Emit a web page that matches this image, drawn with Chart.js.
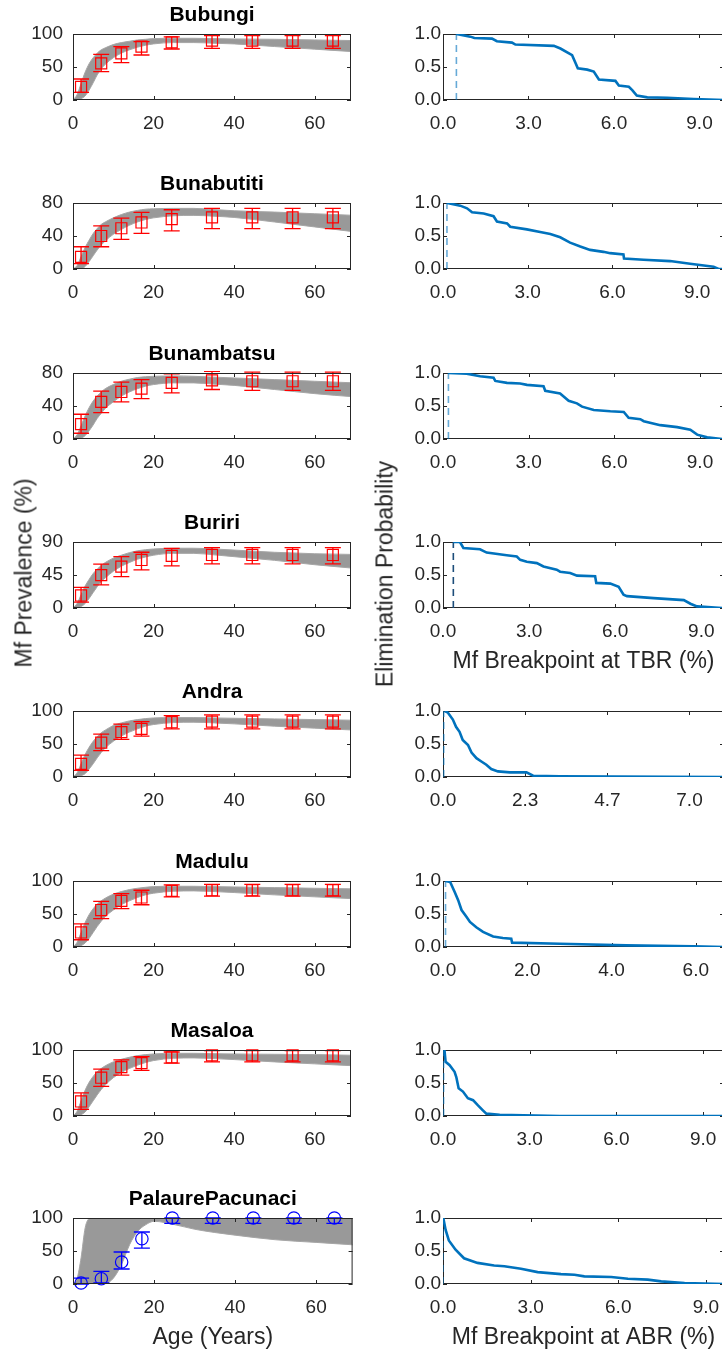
<!DOCTYPE html>
<html>
<head>
<meta charset="utf-8">
<script src="https://cdn.jsdelivr.net/npm/chart.js@4.4.1/dist/chart.umd.min.js"></script>
<style>
  html, body { margin:0; padding:0; background:#fff; }
  body { width:722px; height:1351px; position:relative; overflow:hidden; font-family:'Liberation Sans', Arial, sans-serif; }
  canvas { position:absolute; }
  .ylab { position:absolute; font-size:23px; color:#262626; white-space:nowrap; transform:translate(-50%,-50%) rotate(-90deg); z-index:5; }
</style>
</head>
<body>
<div class="ylab" style="left:24px; top:573px">Mf Prevalence (%)</div>
<div class="ylab" style="left:385px; top:574px">Elimination Probability</div>
<script>
// ---- data ----
const villages = ['Bubungi','Bunabutiti','Bunambatsu','Buriri','Andra','Madulu','Masaloa','PalaurePacunaci'];
const obsAge  = [2, 7, 12, 17, 24.5, 34.5, 44.5, 54.5, 64.5];
const bandAge = [0, 1, 2, 3, 4, 5, 6, 7, 8, 10, 12, 14, 16, 18, 20, 25, 30, 35, 40, 50, 60, 70];
const ageTicks = [0, 20, 40, 60];
const probTicks = [0, 0.5, 1];

const yMaxes = [100, 80, 80, 90, 100, 100, 100, 100];
const yTickSteps = [50, 40, 40, 45, 50, 50, 50, 50];

// observed prevalence (mean, lower, upper)
const bubungiObs = [20, 55.5, 70.7, 80.8, 87.4, 90, 90, 90, 90];
const bubungiLo  = [11.7, 43, 56.6, 68.2, 77.3, 78.3, 78.3, 78.3, 78.3];
const bubungiHi  = [31.8, 69.2, 80.8, 88.4, 95.5, 97.5, 97.5, 97.5, 97.5];
const bunabutitiObs = [14.7, 40, 49.4, 56.4, 60.4, 62.5, 62.5, 62.5, 62.5];
const bunabutitiLo  = [6.5, 27, 35.9, 43.3, 46.1, 49, 49, 49, 49];
const bunabutitiHi  = [27, 52.2, 61.6, 68.6, 71.8, 73.5, 73.5, 73.5, 73.5];
const bunambatsuObs = [18, 45, 57, 61, 68, 71, 70, 70, 70];
const bunambatsuLo  = [7, 32, 45, 49, 56, 60, 59, 59, 59];
const bunambatsuHi  = [30, 58, 69, 72, 79, 82, 81, 81, 81];
const buririObs = [17.1, 44.8, 56.4, 65.5, 71, 72.3, 72.3, 72.3, 72.3];
const buririLo  = [8.1, 31.6, 42.9, 52, 57.4, 60.1, 60.1, 60.1, 60.1];
const buririHi  = [28, 59.7, 70, 76, 81.4, 82.2, 82.2, 82.2, 82.2];
const andraObs = [20, 52, 68, 73, 83, 84, 84, 84, 84];
const andraLo  = [10, 40, 57, 62, 73, 73, 73, 73, 73];
const andraHi  = [33, 65, 80, 84, 93, 94, 94, 94, 94];
const maduluObs = [22, 56, 70, 75, 85, 86, 86, 86, 86];
const maduluLo  = [11, 43, 58, 64, 76, 77, 77, 77, 77];
const maduluHi  = [35, 69, 81, 86, 94, 95, 95, 95, 95];
const masaloaObs = [22, 58, 74, 80, 89, 92, 92, 92, 92];
const masaloaLo  = [10, 45, 62, 69, 80, 82, 82, 82, 82];
const masaloaHi  = [35, 71, 85, 90, 97, 99, 99, 99, 99];
const palaureObs = [1.5, 8, 33.3, 68.6, 100, 100, 100, 100, 100];
const palaureLo  = [0, 1.5, 22.7, 54.5, 92, 92, 92, 92, 92];
const palaureHi  = [9, 19, 48.5, 78.8, 100, 100, 100, 100, 100];

// envelope of the fitted model curves (upper / lower edge of grey band)
const bubungiUp  = [0, 8, 25, 42, 55, 64, 71, 76, 79, 84, 87, 89, 91, 92, 93, 93.5, 93.5, 93, 92.5, 92, 91, 90];
const bubungiLow = [0, 0, 2, 6, 15, 26, 38, 47, 54, 64, 71, 76, 80, 83, 85, 87, 87, 86, 85, 81, 77, 73];
const bunabutitiUp  = [0, 4, 15, 26, 35, 43, 49, 54, 57, 62, 66, 69, 71, 72.5, 73, 73.5, 73.5, 72, 70.6, 69, 67, 65];
const bunabutitiLow = [0, 0, 0, 3, 9, 16, 23, 29, 34, 42, 48, 53, 57, 60, 62, 64.5, 65, 64, 62.5, 57, 51, 45];
const bunambatsuUp  = [0, 5, 16, 28, 38, 46, 52, 57, 61, 66, 70, 72.5, 74.5, 75.5, 76, 76.5, 76, 75, 74, 72, 70, 68];
const bunambatsuLow = [0, 0, 1, 4, 10, 17, 25, 31, 37, 45, 52, 57, 61, 64, 66, 68, 68, 66.5, 65, 60, 55, 51];
const buririUp  = [0, 6, 18, 30, 39, 47, 53, 58, 62, 68, 72, 75.5, 78, 79.5, 80.5, 81.5, 81.5, 80.5, 79, 76, 74, 73];
const buririLow = [0, 0, 2, 6, 13, 21, 29, 36, 41, 50, 57, 62, 66.5, 69.5, 72, 74.5, 74.5, 72.5, 70, 65, 59, 54];
const andraUp  = [0, 6, 20, 34, 45, 54, 61, 67, 71, 78, 82, 85, 87, 88.5, 89.5, 90, 90, 89.5, 89, 88, 87, 86];
const andraLow = [0, 0, 2, 5, 12, 20, 29, 37, 44, 54, 62, 68, 73, 77, 79.5, 82.5, 83, 82, 80.5, 77, 74, 71];
const maduluUp  = [0, 7, 22, 37, 49, 58, 65, 70, 74, 80, 84, 87, 89, 90.5, 91.5, 92, 92, 91.5, 91, 90, 89, 88];
const maduluLow = [0, 0, 2, 6, 13, 22, 31, 39, 46, 56, 64, 70, 75, 79, 81.5, 84.5, 85, 84, 82.5, 79, 76, 73];
const masaloaUp  = [0, 7, 23, 39, 51, 60, 67, 72, 76, 82, 86, 89, 91.5, 93, 94, 95, 95, 94.5, 94, 93.5, 93, 92];
const masaloaLow = [0, 0, 2, 6, 14, 23, 32, 40, 47, 58, 66, 72, 77, 81, 84, 87.5, 88, 87, 85.5, 82, 79, 76];
const palaureUp  = [0, 8, 40, 85, 99, 100, 100, 100, 100, 100, 100, 100, 100, 100, 100, 100, 100, 100, 100, 100, 100, 100];
const palaureLow = [0, 0, 0, 0, 0, 0, 0, 0, 0.5, 9, 30, 60, 80, 90, 95, 90, 83, 78, 74, 67, 63, 59];

// elimination probability vs breakpoint
const bubungiBpX = [0.47, 0.96, 1.1, 1.72, 1.89, 2.42, 2.54, 3.89, 4.12, 4.53, 4.65, 4.73, 5.06, 5.29, 5.47, 6.05, 6.17, 6.52, 6.64, 6.8, 7.17, 7.87, 8.8, 9.86];
const bubungiBpY = [1.0, 0.96, 0.94, 0.93, 0.89, 0.87, 0.84, 0.82, 0.78, 0.68, 0.56, 0.48, 0.46, 0.43, 0.31, 0.29, 0.22, 0.2, 0.15, 0.066, 0.04, 0.035, 0.015, 0.0];
const bunabutitiBpX = [0.15, 0.61, 0.85, 1.03, 1.44, 1.79, 1.91, 2.27, 2.38, 2.97, 3.44, 3.8, 4.15, 4.5, 4.86, 5.21, 5.68, 5.92, 6.39, 6.41, 7.1, 8.04, 8.75, 9.58, 9.76, 9.95];
const bunabutitiBpY = [1.0, 0.96, 0.92, 0.86, 0.84, 0.8, 0.72, 0.69, 0.64, 0.6, 0.56, 0.53, 0.48, 0.4, 0.34, 0.29, 0.26, 0.24, 0.22, 0.16, 0.14, 0.12, 0.08, 0.035, 0.0, 0.0];
const bunambatsuBpX = [0.19, 0.83, 1.3, 1.77, 1.83, 2.24, 2.7, 2.94, 3.52, 3.58, 4.1, 4.4, 4.69, 4.87, 5.28, 5.86, 6.33, 6.5, 6.91, 7.03, 7.61, 8.2, 8.66, 8.9, 9.25, 9.77];
const bunambatsuBpY = [1.0, 0.99, 0.95, 0.93, 0.88, 0.85, 0.84, 0.82, 0.8, 0.73, 0.69, 0.58, 0.54, 0.49, 0.44, 0.42, 0.41, 0.32, 0.3, 0.27, 0.21, 0.18, 0.14, 0.066, 0.025, 0.0];
const buririBpX = [0.36, 0.59, 0.71, 1.29, 1.52, 2.22, 2.57, 2.69, 2.92, 3.27, 3.5, 3.96, 4.08, 4.43, 4.67, 5.3, 5.34, 5.83, 6.12, 6.29, 6.41, 7.34, 8.39, 8.62, 8.85, 9.72];
const buririBpY = [1.0, 1.0, 0.91, 0.89, 0.84, 0.8, 0.78, 0.73, 0.7, 0.68, 0.63, 0.58, 0.55, 0.53, 0.49, 0.48, 0.38, 0.37, 0.32, 0.2, 0.18, 0.15, 0.12, 0.065, 0.025, 0.0];
const andraBpX = [0.05, 0.14, 0.28, 0.37, 0.47, 0.56, 0.71, 0.81, 0.95, 1.09, 1.23, 1.37, 1.56, 1.9, 2.37, 2.56, 3.32, 7.98];
const andraBpY = [1.0, 0.975, 0.87, 0.76, 0.685, 0.56, 0.485, 0.37, 0.285, 0.235, 0.185, 0.12, 0.085, 0.07, 0.07, 0.02, 0.01, 0.0];
const maduluBpX = [0.06, 0.17, 0.28, 0.36, 0.44, 0.56, 0.64, 0.79, 0.95, 1.19, 1.42, 1.62, 1.64, 2.77, 4.35, 5.94, 6.67];
const maduluBpY = [1.0, 0.985, 0.83, 0.71, 0.56, 0.455, 0.38, 0.3, 0.23, 0.16, 0.136, 0.126, 0.066, 0.05, 0.025, 0.01, 0.0];
const masaloaBpX = [0.05, 0.09, 0.23, 0.4, 0.46, 0.54, 0.69, 0.86, 1.04, 1.21, 1.38, 1.5, 1.96, 4.04, 9.72];
const masaloaBpY = [1.0, 0.82, 0.77, 0.67, 0.59, 0.42, 0.37, 0.27, 0.24, 0.16, 0.086, 0.036, 0.02, 0.0, 0.0];
const palaureBpX = [0.01, 0.09, 0.2, 0.43, 0.72, 1.18, 1.75, 2.1, 2.67, 3.24, 4.04, 4.5, 4.84, 5.76, 6.33, 7.01, 7.47, 8.27, 9.62];
const palaureBpY = [1.0, 0.82, 0.66, 0.52, 0.39, 0.32, 0.28, 0.27, 0.23, 0.18, 0.15, 0.14, 0.116, 0.106, 0.08, 0.066, 0.04, 0.015, 0.0];

const thresholds = [0.47, 0.14, 0.19, 0.36, 0.02, 0.06, 0.02, 0.0];
const bpTicks = [[0,3,6,9],[0,3,6,9],[0,3,6,9],[0,3,6,9],[0,2.333,4.667,7],[0,2,4,6],[0,3,6,9],[0,3,6,9]];
const bpXMax = [9.86, 9.95, 9.84, 9.79, 7.98, 6.67, 9.72, 9.62];

const obsMean = [bubungiObs, bunabutitiObs, bunambatsuObs, buririObs, andraObs, maduluObs, masaloaObs, palaureObs];
const obsLo = [bubungiLo, bunabutitiLo, bunambatsuLo, buririLo, andraLo, maduluLo, masaloaLo, palaureLo];
const obsHi = [bubungiHi, bunabutitiHi, bunambatsuHi, buririHi, andraHi, maduluHi, masaloaHi, palaureHi];
const bandUp = [bubungiUp, bunabutitiUp, bunambatsuUp, buririUp, andraUp, maduluUp, masaloaUp, palaureUp];
const bandLow = [bubungiLow, bunabutitiLow, bunambatsuLow, buririLow, andraLow, maduluLow, masaloaLow, palaureLow];
const bpX = [bubungiBpX, bunabutitiBpX, bunambatsuBpX, buririBpX, andraBpX, maduluBpX, masaloaBpX, palaureBpX];
const bpY = [bubungiBpY, bunabutitiBpY, bunambatsuBpY, buririBpY, andraBpY, maduluBpY, masaloaBpY, palaureBpY];

// ---- layout ----
const rowTops = [34, 203, 373, 542, 711, 881, 1050, 1218];
const BOX_H = 66;
const AXIS = '#262626';

Chart.defaults.font.family = "'Liberation Sans', Arial, sans-serif";
Chart.defaults.color = AXIS;
Chart.defaults.animation = false;

// MATLAB-like box with inward ticks
function drawFrame(chart) {
  const { ctx, chartArea: a, scales: { x, y } } = chart;
  ctx.save();
  ctx.strokeStyle = AXIS;
  ctx.lineWidth = 1;
  ctx.strokeRect(a.left + .5, a.top + .5, a.right - a.left - 1, a.bottom - a.top - 1);
  ctx.beginPath();
  x.ticks.forEach(t => {
    const px = Math.round(x.getPixelForValue(t.value)) + .5;
    ctx.moveTo(px, a.bottom); ctx.lineTo(px, a.bottom - 4);
    ctx.moveTo(px, a.top); ctx.lineTo(px, a.top + 4);
  });
  y.ticks.forEach(t => {
    const py = Math.round(y.getPixelForValue(t.value)) + .5;
    ctx.moveTo(a.left, py); ctx.lineTo(a.left + 4, py);
    ctx.moveTo(a.right, py); ctx.lineTo(a.right - 4, py);
  });
  ctx.stroke();
  ctx.restore();
}
const frameOnTop = { id: 'frameOnTop', afterDraw: drawFrame };
const frameBelow = { id: 'frameBelow', beforeDatasetsDraw: drawFrame };

const errorBars = {
  id: 'errorBars',
  afterDatasetsDraw(chart) {
    const { ctx, chartArea: a, scales: { x, y } } = chart;
    chart.data.datasets.forEach(ds => {
      if (!ds.errLo) return;
      ctx.save();
      ctx.beginPath();
      ctx.rect(a.left, a.top - 2, a.right - a.left, a.bottom - a.top + 4);
      ctx.clip();
      ctx.strokeStyle = ds.borderColor;
      ctx.lineWidth = 1.3;
      ctx.beginPath();
      ds.data.forEach((p, k) => {
        const px = x.getPixelForValue(p.x);
        const y1 = y.getPixelForValue(ds.errLo[k]);
        const y2 = y.getPixelForValue(ds.errHi[k]);
        ctx.moveTo(px, y1); ctx.lineTo(px, y2);
        ctx.moveTo(px - 8, y1); ctx.lineTo(px + 8, y1);
        ctx.moveTo(px - 8, y2); ctx.lineTo(px + 8, y2);
      });
      ctx.stroke();
      ctx.restore();
    });
  }
};

function addCanvas(left, top, w, h) {
  const c = document.createElement('canvas');
  c.width = w; c.height = h;
  c.style.left = left + 'px';
  c.style.top = top + 'px';
  c.style.width = w + 'px';
  c.style.height = h + 'px';
  document.body.appendChild(c);
  return c;
}

const tickFont = { size: 19 };

function makeLeft(i) {
  const last = i === 7;
  const axisH = last ? 70 : 40;
  const cv = addCanvas(0, rowTops[i] - 34, 360, 34 + BOX_H + axisH);
  const yMax = yMaxes[i], step = yTickSteps[i];
  const markerColor = last ? '#0000FF' : '#FF0000';
  new Chart(cv, {
    type: 'line',
    data: { datasets: [
      { data: obsAge.map((a, k) => ({ x: a, y: obsMean[i][k] })), errLo: obsLo[i], errHi: obsHi[i],
        showLine: false, borderColor: markerColor, backgroundColor: 'rgba(0,0,0,0)',
        pointStyle: last ? 'circle' : 'rect', pointRadius: last ? 6.2 : 7.8, pointBorderWidth: 1.2, order: 0, clip: 8 },
      { data: bandAge.map((a, k) => ({ x: a, y: bandLow[i][k] })), borderColor: '#a6a6a6', borderWidth: 1,
        pointRadius: 0, cubicInterpolationMode: 'monotone', fill: false, order: 1 },
      { data: bandAge.map((a, k) => ({ x: a, y: bandUp[i][k] })), borderColor: '#a6a6a6', borderWidth: 1,
        pointRadius: 0, cubicInterpolationMode: 'monotone', fill: '-1', backgroundColor: '#999999', order: 1 }
    ]},
    options: {
      responsive: false, devicePixelRatio: 1,
      layout: { padding: { left: 0, right: 6, top: 0, bottom: 0 } },
      plugins: {
        legend: { display: false }, tooltip: { enabled: false },
        title: { display: true, text: villages[i], fullSize: false, color: '#000',
                 font: { size: 21, weight: 'bold' }, padding: { top: 3, bottom: 5.8 } }
      },
      scales: {
        x: { type: 'linear', min: 0, max: 69,
             afterBuildTicks: s => { s.ticks = ageTicks.map(v => ({ value: v })); },
             afterFit: s => { s.height = axisH; s.paddingLeft = 0; s.paddingRight = 0; },
             ticks: { font: tickFont, padding: 12, autoSkip: false, maxRotation: 0 },
             grid: { display: false, drawTicks: false }, border: { display: false },
             title: { display: last, text: 'Age (Years)', font: { size: 23 }, color: AXIS, padding: { top: 0, bottom: 3 } } },
        y: { min: 0, max: yMax,
             afterBuildTicks: s => { s.ticks = [0, step, 2 * step].map(v => ({ value: v })); },
             afterFit: s => { s.width = 73; s.paddingTop = 0; s.paddingBottom = 0; },
             ticks: { font: tickFont, padding: 10 },
             grid: { display: false, drawTicks: false }, border: { display: false } }
      }
    },
    plugins: [errorBars, frameOnTop]
  });
}

function makeRight(i) {
  const xTitle = i === 3 ? 'Mf Breakpoint at TBR (%)' : (i === 7 ? 'Mf Breakpoint at ABR (%)' : '');
  const axisH = xTitle ? 70 : 40;
  const cv = addCanvas(360, rowTops[i] - 20, 367, 20 + BOX_H + axisH);
  const thr = thresholds[i];
  new Chart(cv, {
    type: 'line',
    data: { datasets: [
      { data: bpX[i].map((v, k) => ({ x: v, y: bpY[i][k] })), borderColor: '#0072BD', borderWidth: 2.6,
        pointRadius: 0, tension: 0, fill: false, order: 0 },
      { data: [{ x: thr, y: 0 }, { x: thr, y: 1 }], borderColor: i === 3 ? '#1d4d7a' : 'rgba(0,114,189,0.6)',
        borderWidth: 1.6, borderDash: [7, 5], pointRadius: 0, fill: false, order: 1 }
    ]},
    options: {
      responsive: false, devicePixelRatio: 1,
      layout: { padding: { left: 0, right: 3, top: 20, bottom: 0 } },
      plugins: { legend: { display: false }, tooltip: { enabled: false } },
      scales: {
        x: { type: 'linear', min: 0, max: bpXMax[i],
             afterBuildTicks: s => { s.ticks = bpTicks[i].map(v => ({ value: v })); },
             afterFit: s => { s.height = axisH; s.paddingLeft = 0; s.paddingRight = 0; },
             ticks: { font: tickFont, padding: 12, autoSkip: false, maxRotation: 0, callback: v => v.toFixed(1) },
             grid: { display: false, drawTicks: false }, border: { display: false },
             title: { display: !!xTitle, text: xTitle, font: { size: 23 }, color: AXIS, padding: { top: 0, bottom: 3 } } },
        y: { min: 0, max: 1,
             afterBuildTicks: s => { s.ticks = probTicks.map(v => ({ value: v })); },
             afterFit: s => { s.width = 83; s.paddingTop = 0; s.paddingBottom = 0; },
             ticks: { font: tickFont, padding: 2, callback: v => v.toFixed(1) },
             grid: { display: false, drawTicks: false }, border: { display: false } }
      }
    },
    plugins: [frameBelow]
  });
}

villages.forEach((v, i) => { makeLeft(i); makeRight(i); });
</script>
</body>
</html>
